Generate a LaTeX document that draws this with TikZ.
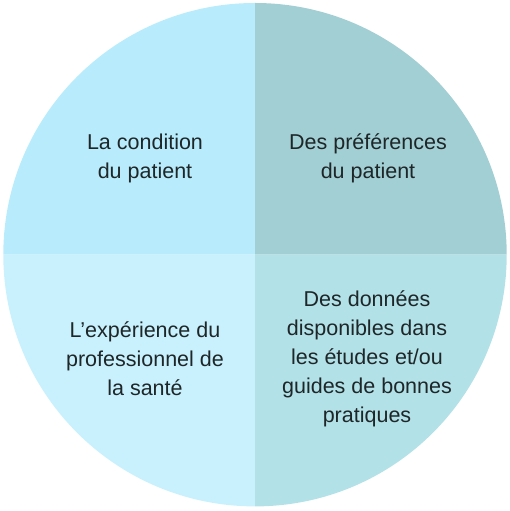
\documentclass[tikz,border=0pt]{standalone}
\usepackage{fontspec}
\setmainfont{Liberation Sans}
\usepackage{tikz}

\definecolor{quadTL}{HTML}{B8ECFC}
\definecolor{quadTR}{HTML}{A2CFD4}
\definecolor{quadBL}{HTML}{C8F1FD}
\definecolor{quadBR}{HTML}{B2E1E8}
\definecolor{labelgray}{HTML}{1E2628}

\begin{document}
\begin{tikzpicture}[
		x=1pt,
		y=1pt,
		every node/.style={font=\fontsize{21.5}{29}\selectfont, text=labelgray, align=center}
		]
		
		\def\CX{255}
		\def\CY{256.3}
		\def\Rad{251.7}
		
		\useasboundingbox (0,0) rectangle (509,511);
		
		% The four quarters of the disc, one colour each.
		\fill[quadTL] (\CX,\CY) -- (\CX,{\CY+\Rad}) arc[start angle=90, end angle=180, radius=\Rad] -- cycle;
		\fill[quadTR] (\CX,\CY) -- ({\CX+\Rad},\CY) arc[start angle=0, end angle=90, radius=\Rad] -- cycle;
		\fill[quadBL] (\CX,\CY) -- ({\CX-\Rad},\CY) arc[start angle=180, end angle=270, radius=\Rad] -- cycle;
		\fill[quadBR] (\CX,\CY) -- (\CX,{\CY-\Rad}) arc[start angle=270, end angle=360, radius=\Rad] -- cycle;
		
		% Labels of the quarters.
		\node (condition) at (145,353) {La condition\\du patient};
		\node (preferences) at (368,353) {Des préférences\\du patient};
		\node (experience) at (145,152) {L’expérience du\\professionnel de\\la santé};
		\node (donnees) at (367,152) {Des données\\disponibles dans\\les études et/ou\\guides de bonnes\\pratiques};
		
	\end{tikzpicture}
\end{document}
